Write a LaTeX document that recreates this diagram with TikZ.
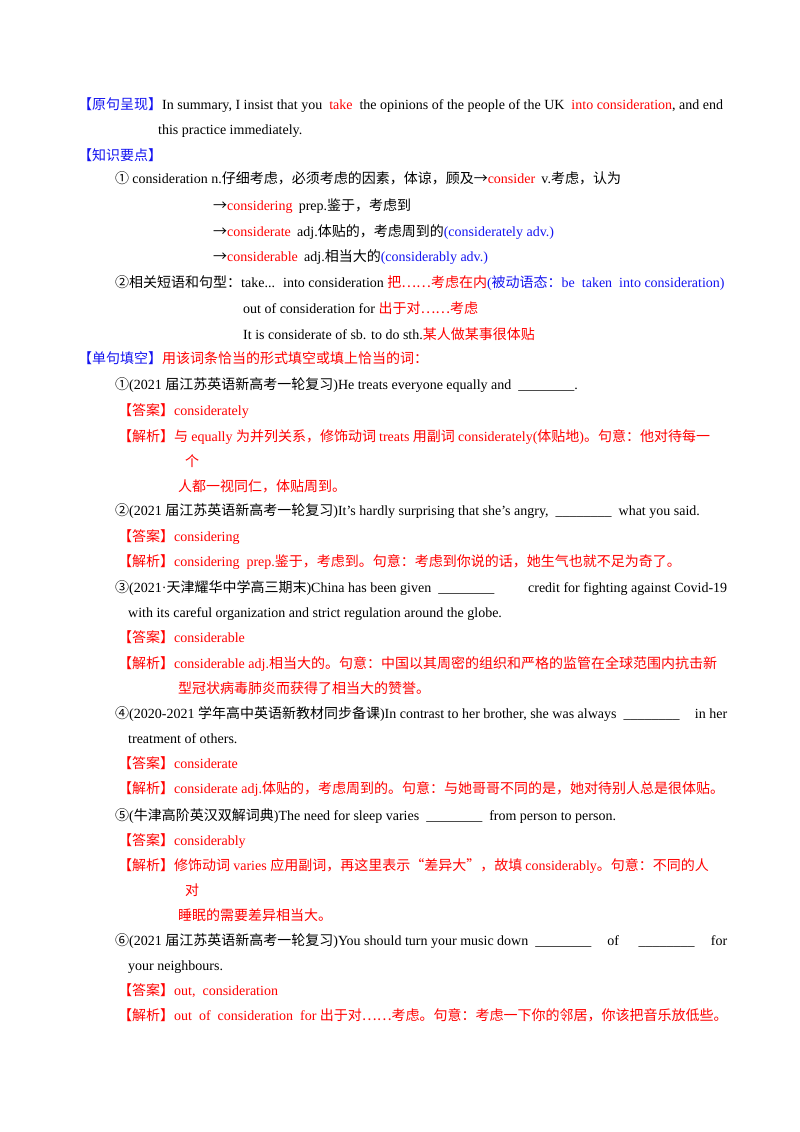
\documentclass[tikz,border=0pt]{standalone}
\usepackage{fontspec}
\setmainfont{Liberation Serif}
\newfontfamily\cjk{Noto Sans CJK SC}
\definecolor{rd}{RGB}{255,0,0}
\definecolor{bl}{RGB}{20,20,240}
\XeTeXinterchartokenstate=1
\chardef\CJKcls=7
\newcount\cc
\def\setrange#1#2{\cc=#1 \loop\XeTeXcharclass\cc=\CJKcls \ifnum\cc<#2 \advance\cc 1 \repeat}
\setrange{"4E00}{"9FFF}
\setrange{"3000}{"303F}
\setrange{"FF00}{"FFEF}
\setrange{"2460}{"2473}
\XeTeXcharclass"2026=\CJKcls
\XeTeXcharclass"201C=\CJKcls
\XeTeXcharclass"201D=\CJKcls
\XeTeXcharclass"2192=\CJKcls
\XeTeXinterchartoks 0 \CJKcls = {\cjk}
\XeTeXinterchartoks 4095 \CJKcls = {\cjk}
\XeTeXinterchartoks \CJKcls 0 = {\rmfamily}
\XeTeXinterchartoks 4095 0 = {\rmfamily}
\newcommand\R[1]{\textcolor{rd}{#1}}
\newcommand\B[1]{\textcolor{bl}{#1}}
\newcommand\blank{\_\_\_\_\_\_\_\_}
\begin{document}
\begin{tikzpicture}[x=1pt,y=-1pt,
  tl/.style={anchor=base west,inner sep=0pt,font=\fontsize{14pt}{16pt}\selectfont}]
\useasboundingbox (0,0) rectangle (800,1132);
\node[tl] (l1) at (78,109) {\B{【原句呈现】}In summary, I insist that you \ \R{take} \ the opinions of the people of the UK \ \R{into consideration}, and end};
\node[tl] (l2) at (158,134) {this practice immediately.};
\node[tl] (l3) at (78,160) {\B{【知识要点】}};
\node[tl] (l4) at (115,183) {① consideration n.仔细考虑，必须考虑的因素，体谅，顾及→\R{consider} \ v.考虑，认为};
\node[tl] (l5) at (213,210) {→\R{considering} \ prep.鉴于，考虑到};
\node[tl] (l6) at (213,236) {→\R{considerate} \ adj.体贴的，考虑周到的\B{(considerately adv.)}};
\node[tl] (l7) at (213,261) {→\R{considerable} \ adj.相当大的\B{(considerably adv.)}};
\node[tl] (l8) at (115,287) {②相关短语和句型：take... \ into consideration \R{把……考虑在内}\B{(被动语态：be \ taken \ into consideration)}};
\node[tl] (l9) at (243,313) {out of consideration for \R{出于对……考虑}};
\node[tl] (l10) at (243,339) {It is considerate of sb. to do sth.\R{某人做某事很体贴}};
\node[tl] (l11) at (78,363) {\B{【单句填空】}\R{用该词条恰当的形式填空或填上恰当的词：}};
\node[tl] (l12) at (115,389) {①(2021 届江苏英语新高考一轮复习)He treats everyone equally and \ \blank.};
\node[tl] (l13) at (118,415) {\R{【答案】considerately}};
\node[tl] (l14) at (118,441) {\R{【解析】与 equally 为并列关系，修饰动词 treats 用副词 considerately(体贴地)。句意：他对待每一}};
\node[tl] (l15) at (185,466) {\R{个}};
\node[tl] (l16) at (178,491) {\R{人都一视同仁，体贴周到。}};
\node[tl] (l17) at (115,515) {②(2021 届江苏英语新高考一轮复习)It’s hardly surprising that she’s angry, \ \blank \ \ what you said.};
\node[tl] (l18) at (118,541) {\R{【答案】considering}};
\node[tl] (l19) at (118,566) {\R{【解析】considering \ prep.鉴于，考虑到。句意：考虑到你说的话，她生气也就不足为奇了。}};
\node[tl] (l20) at (115,592) {\makebox[612pt][l]{③(2021·天津耀华中学高三期末)China has been given \ \blank\hfill credit for fighting against Covid-19}};
\node[tl] (l21) at (128,617) {with its careful organization and strict regulation around the globe.};
\node[tl] (l22) at (118,642) {\R{【答案】considerable}};
\node[tl] (l23) at (118,668) {\R{【解析】considerable adj.相当大的。句意：中国以其周密的组织和严格的监管在全球范围内抗击新}};
\node[tl] (l24) at (178,693) {\R{型冠状病毒肺炎而获得了相当大的赞誉。}};
\node[tl] (l25) at (115,718) {\makebox[612pt][l]{④(2020-2021 学年高中英语新教材同步备课)In contrast to her brother, she was always \ \blank\hfill in her}};
\node[tl] (l26) at (128,743) {treatment of others.};
\node[tl] (l27) at (118,768) {\R{【答案】considerate}};
\node[tl] (l28) at (118,793) {\R{【解析】considerate adj.体贴的，考虑周到的。句意：与她哥哥不同的是，她对待别人总是很体贴。}};
\node[tl] (l29) at (115,820) {⑤(牛津高阶英汉双解词典)The need for sleep varies \ \blank \ \ from person to person.};
\node[tl] (l30) at (118,845) {\R{【答案】considerably}};
\node[tl] (l31) at (118,870) {\R{【解析】修饰动词 varies 应用副词，再这里表示“差异大”，故填 considerably。句意：不同的人}};
\node[tl] (l32) at (185,895) {\R{对}};
\node[tl] (l33) at (178,920) {\R{睡眠的需要差异相当大。}};
\node[tl] (l34) at (115,945) {\makebox[612pt][l]{⑥(2021 届江苏英语新高考一轮复习)You should turn your music down \ \blank\hfill of \hfill\blank\hfill for}};
\node[tl] (l35) at (128,970) {your neighbours.};
\node[tl] (l36) at (118,995) {\R{【答案】out, \ consideration}};
\node[tl] (l37) at (118,1020) {\R{【解析】out \ of \ consideration \ for 出于对……考虑。句意：考虑一下你的邻居，你该把音乐放低些。}};
\end{tikzpicture}
\end{document}
